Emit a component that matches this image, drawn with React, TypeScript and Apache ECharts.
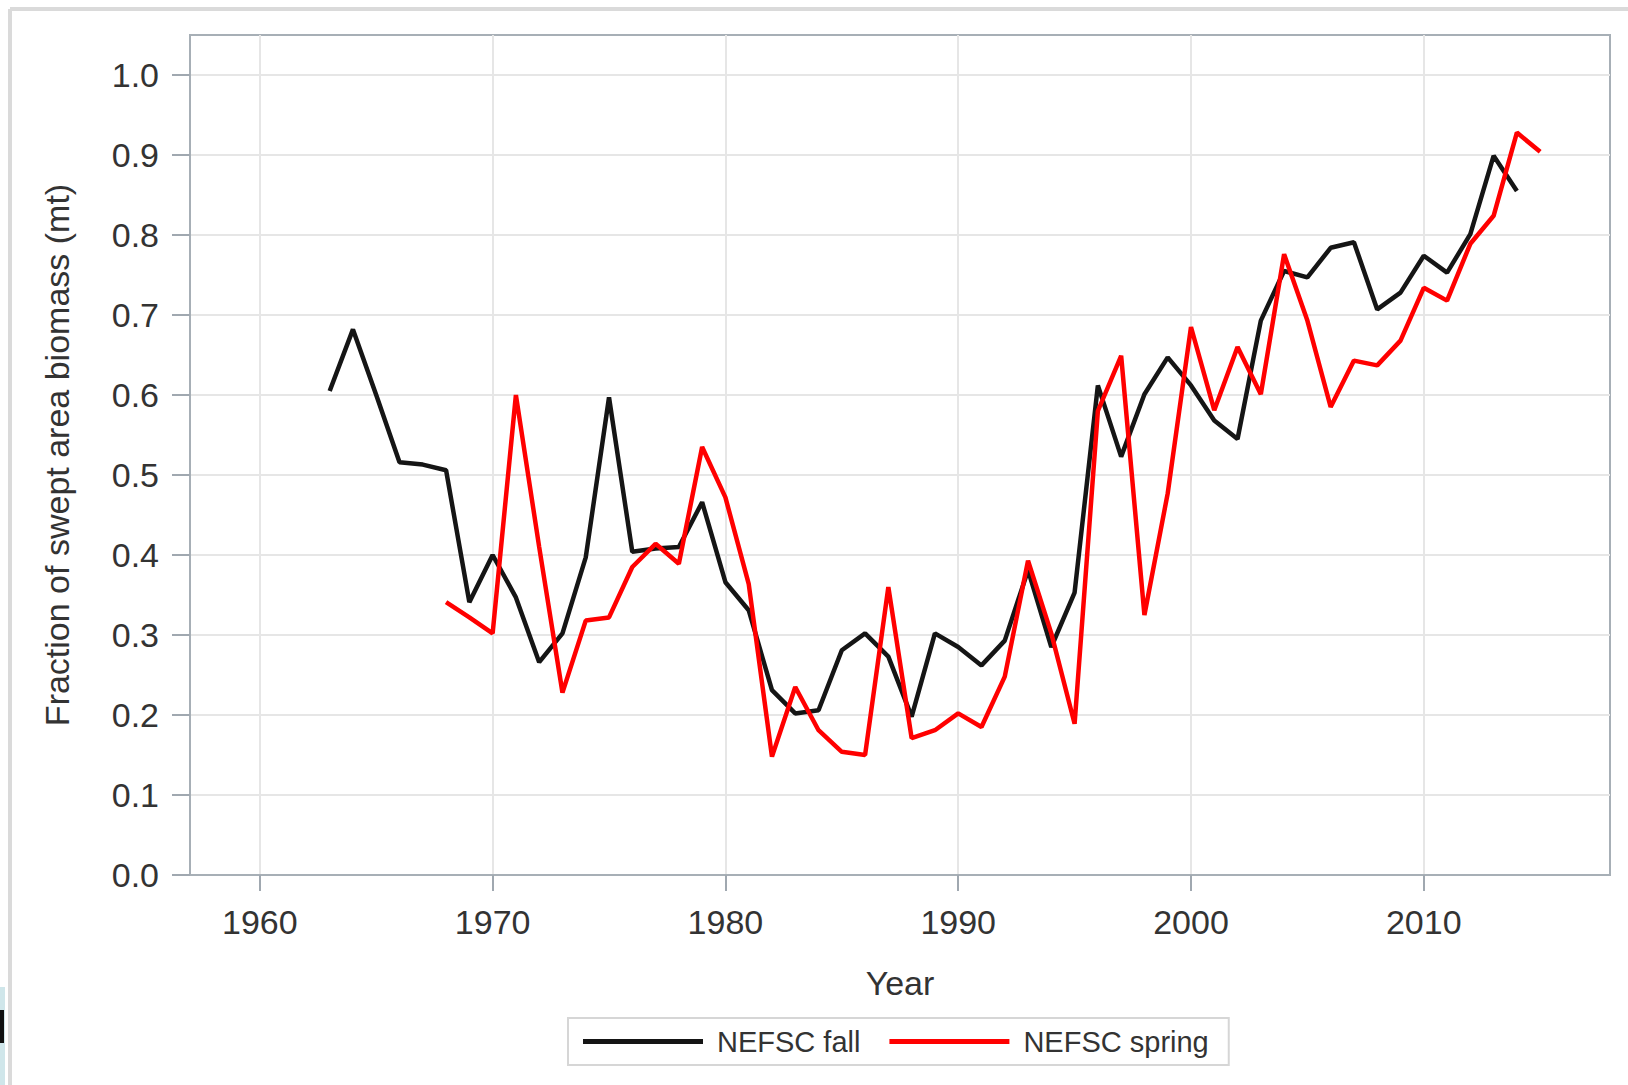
import React, { useEffect, useRef } from "react";
import * as echarts from "echarts";

const fallYears = [
  1963, 1964, 1965, 1966, 1967, 1968, 1969, 1970, 1971, 1972, 1973, 1974, 1975,
  1976, 1977, 1978, 1979, 1980, 1981, 1982, 1983, 1984, 1985, 1986, 1987, 1988,
  1989, 1990, 1991, 1992, 1993, 1994, 1995, 1996, 1997, 1998, 1999, 2000, 2001,
  2002, 2003, 2004, 2005, 2006, 2007, 2008, 2009, 2010, 2011, 2012, 2013, 2014,
];
const fallValues = [
  0.605, 0.682, 0.6, 0.516, 0.513, 0.506, 0.341, 0.4, 0.347, 0.266, 0.302, 0.397,
  0.597, 0.404, 0.408, 0.41, 0.466, 0.366, 0.331, 0.231, 0.202, 0.206, 0.281,
  0.302, 0.273, 0.198, 0.302, 0.285, 0.262, 0.293, 0.381, 0.285, 0.353, 0.612,
  0.523, 0.601, 0.647, 0.612, 0.568, 0.545, 0.693, 0.755, 0.747, 0.784, 0.791,
  0.707, 0.728, 0.774, 0.753, 0.801, 0.899, 0.855,
];

const springYears = [
  1968, 1969, 1970, 1971, 1972, 1973, 1974, 1975, 1976, 1977, 1978, 1979, 1980,
  1981, 1982, 1983, 1984, 1985, 1986, 1987, 1988, 1989, 1990, 1991, 1992, 1993,
  1994, 1995, 1996, 1997, 1998, 1999, 2000, 2001, 2002, 2003, 2004, 2005, 2006,
  2007, 2008, 2009, 2010, 2011, 2012, 2013, 2014, 2015,
];
const springValues = [
  0.341, 0.322, 0.302, 0.6, 0.41, 0.228, 0.318, 0.322, 0.385, 0.414, 0.389, 0.535,
  0.472, 0.364, 0.148, 0.235, 0.181, 0.154, 0.15, 0.36, 0.171, 0.181, 0.202,
  0.185, 0.248, 0.393, 0.302, 0.189, 0.58, 0.649, 0.325, 0.477, 0.685, 0.581,
  0.66, 0.601, 0.776, 0.693, 0.585, 0.643, 0.637, 0.668, 0.734, 0.718, 0.789,
  0.824, 0.928, 0.904,
];

const xTicks = [1960, 1970, 1980, 1990, 2000, 2010];
const yTicks = [0, 0.1, 0.2, 0.3, 0.4, 0.5, 0.6, 0.7, 0.8, 0.9, 1.0];

const FONT = "'Liberation Sans', Arial, Helvetica, sans-serif";
const FRAME = "#a7afb6";
const TICK = "#a0a8b0";
const GRID = "#e6e6e6";
const TEXT = "#333333";

export default function App() {
  const ref = useRef<HTMLDivElement | null>(null);

  useEffect(() => {
    document.body.style.margin = "0";
    if (!ref.current) return;
    const chart = echarts.init(ref.current, null, { renderer: "svg" });

    const option = {
      animation: false,
      backgroundColor: "#ffffff",
      textStyle: { fontFamily: FONT },
      grid: {
        left: 190,
        top: 35,
        right: 18,
        bottom: 210,
        show: true,
        borderColor: FRAME,
        borderWidth: 2,
        backgroundColor: "#ffffff",
      },
      xAxis: {
        type: "value",
        min: 1957,
        max: 2018,
        name: "Year",
        nameLocation: "middle",
        nameGap: 91,
        nameTextStyle: { fontSize: 34, color: TEXT, fontFamily: FONT },
        axisLine: { show: true, onZero: false, lineStyle: { color: FRAME, width: 2 } },
        axisTick: {
          show: true,
          length: 16,
          customValues: xTicks,
          lineStyle: { color: TICK, width: 2 },
        },
        axisLabel: {
          customValues: xTicks,
          fontSize: 34,
          margin: 30,
          color: TEXT,
          fontFamily: FONT,
          formatter: (v: number) => String(v),
        },
        splitLine: { show: true, lineStyle: { color: GRID, width: 2 } },
      },
      yAxis: {
        type: "value",
        min: 0,
        max: 1.05,
        name: "Fraction of swept area biomass (mt)",
        nameLocation: "middle",
        nameGap: 116,
        nameTextStyle: { fontSize: 34, color: TEXT, fontFamily: FONT },
        axisLine: { show: true, lineStyle: { color: FRAME, width: 2 } },
        axisTick: {
          show: true,
          length: 18,
          customValues: yTicks,
          lineStyle: { color: TICK, width: 2 },
        },
        axisLabel: {
          customValues: yTicks,
          fontSize: 34,
          margin: 31,
          color: TEXT,
          fontFamily: FONT,
          formatter: (v: number) => v.toFixed(1),
        },
        splitLine: { show: true, lineStyle: { color: GRID, width: 2 } },
      },
      legend: {
        left: 568,
        top: 1018,
        orient: "horizontal",
        padding: [8, 20, 8, 15],
        itemGap: 29,
        itemWidth: 120,
        itemHeight: 5,
        icon: "rect",
        borderColor: "#d6d6d6",
        borderWidth: 2,
        backgroundColor: "#ffffff",
        textStyle: {
          fontSize: 29,
          color: TEXT,
          fontFamily: FONT,
          padding: [0, 0, 0, 9],
          lineHeight: 31,
        },
        data: ["NEFSC fall", "NEFSC spring"],
      },
      graphic: [
        {
          type: "line",
          shape: { x1: 10, y1: 9, x2: 1628, y2: 9 },
          style: { stroke: "#dadada", lineWidth: 4 },
          silent: true,
        },
        {
          type: "line",
          shape: { x1: 10, y1: 9, x2: 10, y2: 1085 },
          style: { stroke: "#dadada", lineWidth: 4 },
          silent: true,
        },
        {
          type: "rect",
          shape: { x: 0, y: 987, width: 5, height: 98 },
          style: { fill: "#cfe6ea" },
          silent: true,
        },
        {
          type: "rect",
          shape: { x: 0, y: 1010, width: 4, height: 33 },
          style: { fill: "#111111" },
          silent: true,
        },
      ],
      series: [
        {
          name: "NEFSC fall",
          type: "line",
          data: fallYears.map((y, i) => [y, fallValues[i]]),
          symbol: "none",
          showSymbol: false,
          lineStyle: { color: "#151515", width: 4.5 },
          itemStyle: { color: "#151515" },
          z: 3,
        },
        {
          name: "NEFSC spring",
          type: "line",
          data: springYears.map((y, i) => [y, springValues[i]]),
          symbol: "none",
          showSymbol: false,
          lineStyle: { color: "#ff0000", width: 4.5 },
          itemStyle: { color: "#ff0000" },
          z: 4,
        },
      ],
    };

    chart.setOption(option as any);
    return () => chart.dispose();
  }, []);

  return <div ref={ref} style={{ width: 1628, height: 1085 }} />;
}
